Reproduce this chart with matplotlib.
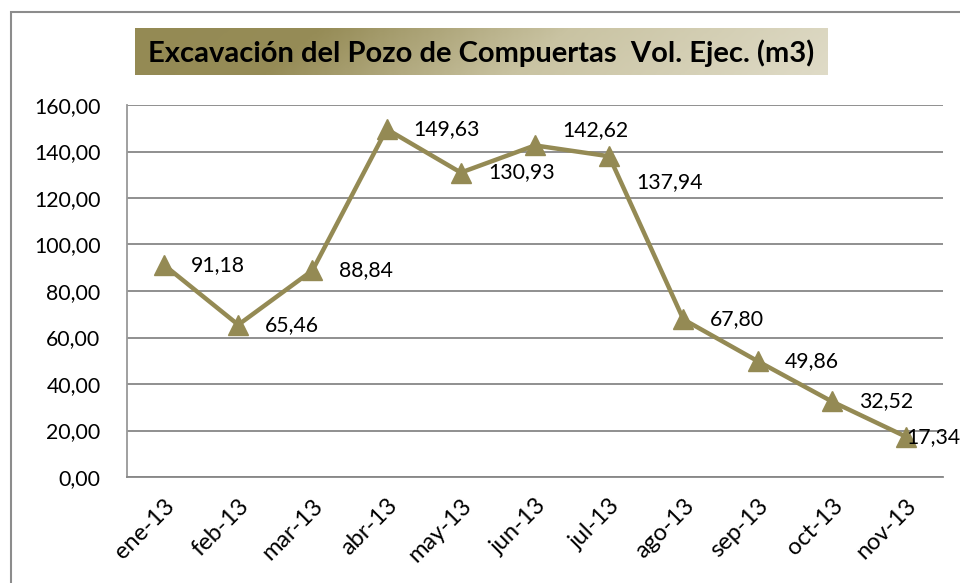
import matplotlib
matplotlib.use("Agg")
import matplotlib.pyplot as plt
import numpy as np
from matplotlib.colors import LinearSegmentedColormap
from matplotlib.patches import Rectangle

plt.rcParams['font.family'] = ['Lato', 'DejaVu Sans']

months = ["ene-13", "feb-13", "mar-13", "abr-13", "may-13", "jun-13",
          "jul-13", "ago-13", "sep-13", "oct-13", "nov-13"]
volumes = [91.18, 65.46, 88.84, 149.63, 130.93, 142.62,
           137.94, 67.80, 49.86, 32.52, 17.34]
yticks = [0, 20, 40, 60, 80, 100, 120, 140, 160]
title = "Excavación del Pozo de Compuertas  Vol. Ejec. (m3)"

# label offsets in pixels (dx, dy)
label_offsets = [(27, 0), (27, 0), (27, 0), (27, 0), (27, 0), (27, 15),
                 (27, -26), (27, 0), (27, 0), (27, 0), (0, 0)]

W, H = 960, 583
fig = plt.figure(figsize=(W / 100, H / 100), dpi=100)
fig.patch.set_facecolor("white")

# outer border
fig.add_artist(Rectangle((11 / W, -0.05), 1.2, (H - 12) / H + 0.05,
                         transform=fig.transFigure, fill=False,
                         edgecolor="#8c8c8c", linewidth=1.5))

# plot area
ax = fig.add_axes([127 / W, 1 - 477 / H, (943 - 127) / W, (477 - 105) / H])
x = np.arange(len(months))
color = "#948A54"
ax.plot(x, volumes, color=color, linewidth=3.2, marker="^",
        markersize=14, markeredgecolor=color, markerfacecolor=color,
        zorder=3, clip_on=False)

fs = 15.3
ax.set_xlim(-0.5, len(months) - 0.5)
ax.set_ylim(0, 160)
ax.set_yticks(yticks)
ax.set_yticklabels([f"{v:.2f}".replace(".", ",") for v in yticks], fontsize=fs)
ax.set_xticks(x)
ax.set_xticklabels(months, rotation=45, ha="right", rotation_mode="anchor",
                   fontsize=17)
ax.tick_params(axis="both", length=0)
ax.tick_params(axis="y", pad=19)
ax.tick_params(axis="x", pad=13)
ax.yaxis.grid(True, color="#878787", linewidth=1.3)
ax.set_axisbelow(True)
for s in ["top", "right"]:
    ax.spines[s].set_visible(False)
ax.spines["left"].set_color("#999999")
ax.spines["left"].set_linewidth(1.3)
ax.spines["bottom"].set_color("#878787")
ax.spines["bottom"].set_linewidth(1.3)

for xi, v, (dx, dy) in zip(x, volumes, label_offsets):
    ax.annotate(f"{v:.2f}".replace(".", ","), (xi, v),
                xytext=(dx, dy), textcoords="offset pixels",
                ha="left", va="center", fontsize=fs, color="black",
                zorder=4, annotation_clip=False)

# title box with gradient
tax = fig.add_axes([135 / W, 1 - 75 / H, (828 - 135) / W, (75 - 28) / H])
cmap = LinearSegmentedColormap.from_list(
    "g", [(0, "#948A54"), (0.25, "#968C57"), (0.58, "#C9C3A2"), (1, "#DFDBC7")])
grad = np.linspace(0, 1, 300)[None, :] + np.linspace(0, 0.08, 20)[:, None]
tax.imshow(grad, aspect="auto", cmap=cmap, extent=[0, 1, 0, 1], vmin=0, vmax=1.08)
tax.set_axis_off()
tax.text(0.5, 0.47, title, ha="center", va="center", fontsize=21,
         fontweight="bold", color="black", transform=tax.transAxes)

fig.savefig("out.png", dpi=100)
